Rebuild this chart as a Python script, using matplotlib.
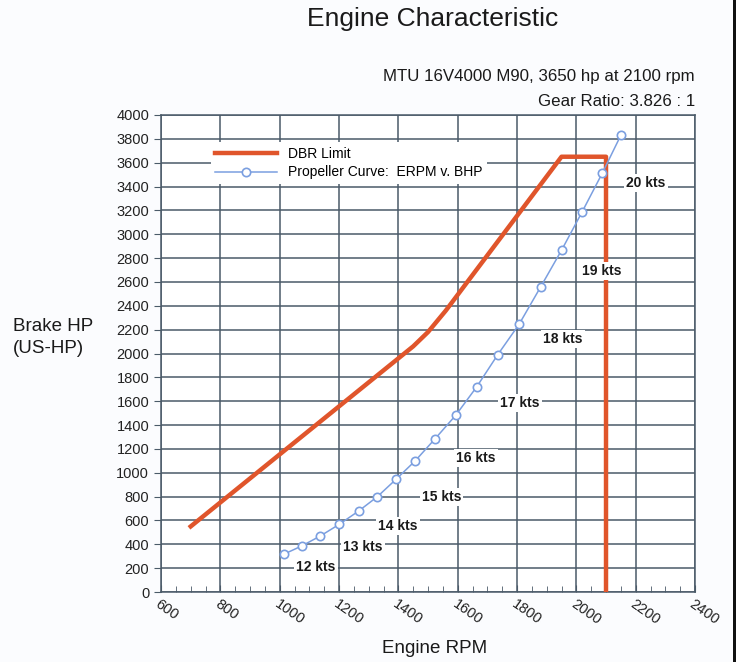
import matplotlib.pyplot as plt
from matplotlib.patches import Rectangle

plt.rcParams['font.family'] = ['Liberation Sans', 'DejaVu Sans']

# DBR limit line (rpm, hp)
dbr_rpm = [700, 1450, 1500, 1560, 1950, 2100, 2100]
dbr_hp = [550, 2060, 2180, 2360, 3650, 3650, 0]

# propeller curve points
prop_rpm = [1013, 1074, 1137, 1201, 1266, 1329, 1392, 1456, 1522,
            1594, 1664, 1735, 1807, 1880, 1951, 2020, 2088, 2150]
prop_hp = [316, 386, 470, 568, 679, 799, 945, 1098, 1280,
           1484, 1720, 1990, 2245, 2560, 2870, 3190, 3515, 3830]

# speed labels
kts_labels = ['12 kts', '13 kts', '14 kts', '15 kts', '16 kts',
              '17 kts', '18 kts', '19 kts', '20 kts']
kts_rpm = [1123, 1281, 1398, 1545, 1662, 1809, 1955, 2087, 2234]
kts_hp = [212, 375, 553, 794, 1121, 1582, 2121, 2694, 3432]

red = '#e0552b'
blue = '#7b9fe0'
grid_col = '#4a5a68'

fig = plt.figure(figsize=(7.36, 6.62), dpi=100)
fig.patch.set_facecolor('#fbfcfe')
ax = fig.add_axes([0.2188, 0.1057, 0.7255, 0.7206])
ax.set_facecolor('white')

ax.plot(dbr_rpm, dbr_hp, color=red, lw=3.2, label='DBR Limit', zorder=3)
ax.plot(prop_rpm, prop_hp, color=blue, lw=1.1, marker='o', ms=6,
        mfc='white', mec=blue, mew=1.2,
        label='Propeller Curve:  ERPM v. BHP', zorder=4)

for lab, xr, yh in zip(kts_labels, kts_rpm, kts_hp):
    ax.text(xr, yh, lab, ha='center', va='center', fontsize=10,
            fontweight='bold', color='#1a1a1a', zorder=5,
            bbox=dict(facecolor='white', edgecolor='none', pad=1.5))

ax.set_xlim(600, 2400)
ax.set_ylim(0, 4000)
ax.set_xticks(range(600, 2401, 200))
ax.set_xticks(range(600, 2401, 50), minor=True)
ax.set_yticks(range(0, 4001, 200))
ax.grid(True, which='major', color=grid_col, lw=1.1, zorder=1)
ax.tick_params(axis='x', which='minor', direction='in', length=4, color=grid_col)
ax.tick_params(axis='both', which='major', length=5, color=grid_col,
               labelsize=10.5, labelcolor='#222222')
ax.tick_params(axis='x', which='major', direction='in')
for lbl in ax.get_xticklabels():
    lbl.set_rotation(-35)
    lbl.set_ha('left')
    lbl.set_va('top')
    lbl.set_rotation_mode('anchor')
for s in ax.spines.values():
    s.set_color(grid_col)
    s.set_linewidth(1.1)

leg = ax.legend(loc='upper left', bbox_to_anchor=(0.08, 0.957), fontsize=10,
                frameon=True, fancybox=False, handlelength=4.5,
                borderpad=0.3, labelspacing=0.35)
leg.get_frame().set_edgecolor('none')
leg.get_frame().set_facecolor('white')
leg.get_frame().set_alpha(1)
leg.set_zorder(6)

fig.text(0.588, 0.972, 'Engine Characteristic', ha='center', va='center',
         fontsize=19, color='#1a1a1a')
fig.text(0.944, 0.884, 'MTU 16V4000 M90, 3650 hp at 2100 rpm', ha='right',
         va='center', fontsize=12.2, color='#1a1a1a')
fig.text(0.944, 0.847, 'Gear Ratio: 3.826 : 1', ha='right', va='center',
         fontsize=12.2, color='#1a1a1a')
fig.text(0.018, 0.49, 'Brake HP\n(US-HP)', ha='left', va='center',
         fontsize=13.5, color='#1a1a1a', linespacing=1.35)
fig.text(0.591, 0.021, 'Engine RPM', ha='center', va='center',
         fontsize=13.5, color='#1a1a1a')

# dark strip at the right edge of the scan
fig.patches.append(Rectangle((0.9955, 0), 0.0045, 1, transform=fig.transFigure,
                             facecolor='#111111', edgecolor='none'))

fig.savefig('out.png', dpi=100)
